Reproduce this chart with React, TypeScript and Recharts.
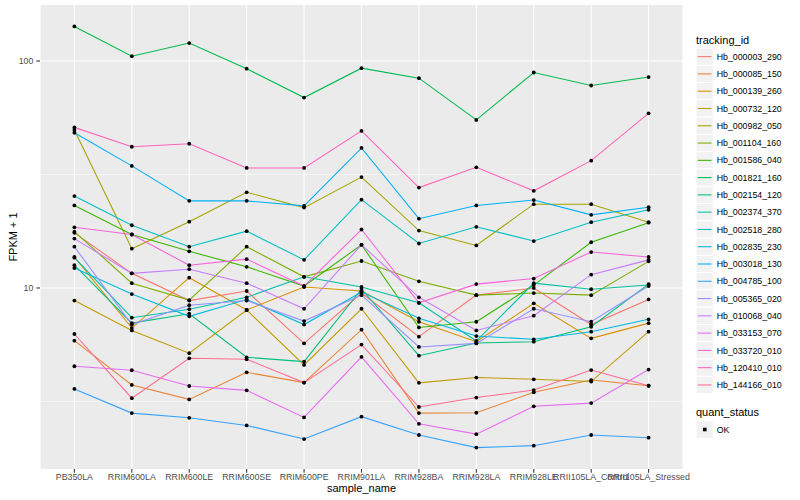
import React from 'react';
import { LineChart, Line, XAxis, YAxis, CartesianGrid } from 'recharts';

const samples = [
  'PB350LA', 'RRIM600LA', 'RRIM600LE', 'RRIM600SE', 'RRIM600PE', 'RRIM901LA',
  'RRIM928BA', 'RRIM928LA', 'RRIM928LE', 'RRII105LA_Control', 'RRII105LA_Stressed',
];

const trackingIds = [
  'Hb_000003_290', 'Hb_000085_150', 'Hb_000139_260', 'Hb_000732_120', 'Hb_000982_050',
  'Hb_001104_160', 'Hb_001586_040', 'Hb_001821_160', 'Hb_002154_120', 'Hb_002374_370',
  'Hb_002518_280', 'Hb_002835_230', 'Hb_003018_130', 'Hb_004785_100', 'Hb_005365_020',
  'Hb_010068_040', 'Hb_033153_070', 'Hb_033720_010', 'Hb_120410_010', 'Hb_144166_010',
];

const palette = [
  '#F8766D', '#EA8331', '#D89000', '#C09B00', '#A3A500', '#7CAE00', '#39B600', '#00BB4E',
  '#00BF7D', '#00C1A3', '#00BFC4', '#00BAE0', '#00B0F6', '#35A2FF', '#9590FF', '#C77CFF',
  '#E76BF3', '#FA62DB', '#FF62BC', '#FF6C91',
];

const hb_000003_290 = [17.5, 11.6, 8.8, 9.7, 5.7, 9.5, 6.1, 9.3, 10.0, 6.9, 8.9];
const hb_000085_150 = [5.86, 3.74, 3.23, 4.25, 3.83, 6.55, 2.81, 2.82, 3.47, 3.93, 3.71];
const hb_000139_260 = [13.7, 6.66, 11.1, 8.0, 10.1, 9.7, 7.1, 5.8, 8.56, 6.0, 7.0];
const hb_000732_120 = [8.8, 6.5, 5.16, 8.0, 4.58, 8.1, 3.82, 4.03, 3.96, 3.87, 6.42];
const hb_000982_050 = [49.7, 14.9, 19.6, 26.4, 22.6, 30.8, 17.9, 15.4, 23.4, 23.4, 19.5];
const hb_001104_160 = [17.7, 10.5, 8.85, 15.2, 11.2, 13.15, 10.7, 9.3, 9.5, 9.3, 13.1];
const hb_001586_040 = [23.1, 17.2, 14.5, 12.4, 10.2, 15.5, 6.7, 7.1, 10.3, 15.9, 19.4];
const hb_001821_160 = [142, 105, 120, 92.5, 69, 93, 84, 55, 89, 78, 85];
const hb_002154_120 = [12.6, 7.0, 7.7, 4.95, 4.74, 9.9, 5.03, 5.72, 5.8, 6.75, 10.4];
const hb_002374_370 = [13.6, 7.4, 8.06, 9.1, 11.2, 10.1, 8.6, 5.84, 10.5, 9.87, 10.3];
const hb_002518_280 = [25.4, 18.9, 15.2, 17.8, 13.3, 24.5, 15.7, 18.6, 16.1, 19.5, 22.1];
const hb_002835_230 = [12.25, 9.4, 7.5, 8.9, 6.9, 9.6, 7.35, 6.14, 5.94, 6.42, 7.28];
const hb_003018_130 = [48.3, 34.5, 24.2, 24.2, 23.0, 41.4, 20.2, 23.1, 24.4, 21.0, 22.7];
const hb_004785_100 = [3.59, 2.81, 2.68, 2.48, 2.16, 2.71, 2.25, 1.98, 2.02, 2.25, 2.19];
const hb_005365_020 = [15.2, 6.9, 8.4, 8.8, 7.15, 9.3, 5.5, 5.7, 8.1, 7.1, 10.2];
const hb_010068_040 = [16.5, 11.6, 12.1, 10.5, 8.1, 15.5, 9.1, 6.5, 7.55, 11.45, 13.3];
const hb_033153_070 = [4.52, 4.34, 3.7, 3.54, 2.69, 4.97, 2.52, 2.27, 3.01, 3.11, 4.37];
const hb_033720_010 = [18.5, 17.2, 12.6, 13.4, 10.2, 18.1, 8.6, 10.4, 11.0, 14.4, 13.7];
const hb_120410_010 = [51.0, 41.9, 43.2, 33.8, 33.8, 49.2, 27.7, 34.0, 26.8, 36.4, 58.8];
const hb_144166_010 = [6.27, 3.27, 4.9, 4.85, 3.83, 5.63, 2.99, 3.29, 3.55, 4.35, 3.71];

const seriesValues = [
  hb_000003_290, hb_000085_150, hb_000139_260, hb_000732_120, hb_000982_050,
  hb_001104_160, hb_001586_040, hb_001821_160, hb_002154_120, hb_002374_370,
  hb_002518_280, hb_002835_230, hb_003018_130, hb_004785_100, hb_005365_020,
  hb_010068_040, hb_033153_070, hb_033720_010, hb_120410_010, hb_144166_010,
];

const yMajorTicks = [10, 100];
const yMinorBreaks = [3.162, 31.62];
const yDomain = [1.594, 176.5];

const rows = samples.map((s, i) => {
  const r: Record<string, any> = { sample: s };
  trackingIds.forEach((id, k) => {
    r[id] = seriesValues[k][i];
  });
  return r;
});

const FONT = '"Liberation Sans", Arial, Helvetica, sans-serif';

const XTick = (props: any) => {
  const { x, y, payload } = props;
  return (
    <text x={x} y={y} dy={5.6} textAnchor="middle" fontSize={8.8} fill="#4D4D4D" fontFamily={FONT}>
      {payload.value}
    </text>
  );
};

const YTick = (props: any) => {
  const { x, y, payload } = props;
  return (
    <text x={x} y={y} dy={3.1} textAnchor="end" fontSize={8.8} fill="#4D4D4D" fontFamily={FONT}>
      {payload.value}
    </text>
  );
};

const KEY_TOP = 48;
const KEY_H = 17.28;

export default function App() {
  return (
    <div style={{ position: 'absolute', left: 0, top: 0, width: 800, height: 500, background: '#fff', fontFamily: FONT }}>
      <LineChart width={800} height={500} data={rows} margin={{ top: 5, right: 117, bottom: 0, left: 0 }}>
        <CartesianGrid
          fill="#EBEBEB"
          stroke="#FFFFFF"
          strokeWidth={0.53}
          vertical={false}
          horizontalValues={yMinorBreaks}
        />
        <CartesianGrid stroke="#FFFFFF" strokeWidth={1.07} horizontalValues={yMajorTicks} />
        <XAxis
          dataKey="sample"
          type="category"
          height={31}
          padding={{ left: 34.4, right: 34.4 }}
          axisLine={false}
          tickLine={{ stroke: '#333333', strokeWidth: 1.07 }}
          tickSize={3.67}
          tickMargin={2}
          interval={0}
          tick={<XTick />}
        />
        <YAxis
          scale="log"
          domain={yDomain}
          allowDataOverflow
          ticks={yMajorTicks}
          width={40}
          axisLine={false}
          tickLine={{ stroke: '#333333', strokeWidth: 1.07 }}
          tickSize={3.67}
          tickMargin={2.93}
          tick={<YTick />}
        />
        {trackingIds.map((id, k) => (
          <Line
            key={id}
            dataKey={id}
            type="linear"
            stroke={palette[k]}
            strokeWidth={1.07}
            dot={false}
            activeDot={false}
            isAnimationActive={false}
          />
        ))}
        {trackingIds.map((id) => (
          <Line
            key={id + '_pt'}
            dataKey={id}
            type="linear"
            stroke="none"
            dot={{ r: 1.9, fill: '#000000', stroke: 'none' }}
            activeDot={false}
            isAnimationActive={false}
          />
        ))}
      </LineChart>
      <svg width={800} height={500} style={{ position: 'absolute', left: 0, top: 0, pointerEvents: 'none' }}>
        <text x={361.5} y={492} textAnchor="middle" fontSize={11} fill="#000" fontFamily={FONT}>
          sample_name
        </text>
        <text
          x={0}
          y={0}
          transform="translate(16.5,237) rotate(-90)"
          textAnchor="middle"
          fontSize={11}
          fill="#000"
          fontFamily={FONT}
        >
          FPKM + 1
        </text>
        <text x={696} y={44} fontSize={11} fill="#000" fontFamily={FONT}>
          tracking_id
        </text>
        {trackingIds.map((id, k) => {
          const top = KEY_TOP + KEY_H * k;
          const cy = top + KEY_H / 2;
          return (
            <g key={id}>
              <rect x={696} y={top} width={17.28} height={KEY_H} fill="#F2F2F2" stroke="#FFFFFF" strokeWidth={1} />
              <line x1={697.7} x2={711.6} y1={cy} y2={cy} stroke={palette[k]} strokeWidth={1.07} />
              <text x={716.7} y={cy + 3.1} fontSize={8.8} fill="#000" fontFamily={FONT}>
                {id}
              </text>
            </g>
          );
        })}
        <text x={696} y={416} fontSize={11} fill="#000" fontFamily={FONT}>
          quant_status
        </text>
        <rect x={696} y={421} width={17.28} height={KEY_H} fill="#F2F2F2" stroke="#FFFFFF" strokeWidth={1} />
        <rect x={703} y={427.7} width={3.6} height={3.6} fill="#000" />
        <text x={716.7} y={432.7} fontSize={8.8} fill="#000" fontFamily={FONT}>
          OK
        </text>
      </svg>
    </div>
  );
}
